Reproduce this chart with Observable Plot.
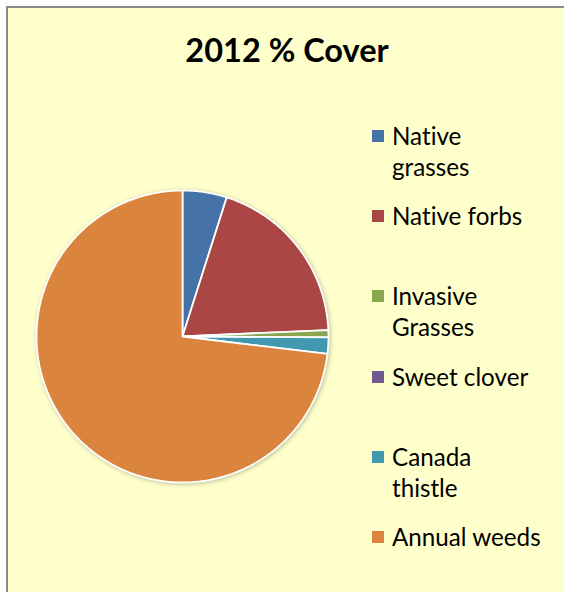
<!DOCTYPE html>
<html>
<head>
<meta charset="utf-8">
<script src="https://cdn.jsdelivr.net/npm/d3@7"></script>
<script src="https://cdn.jsdelivr.net/npm/@observablehq/plot@0.6"></script>
<style>
  html, body { margin: 0; padding: 0; background: #ffffff; width: 564px; height: 592px; overflow: hidden; }
  #frame { position: absolute; left: 6px; top: 6px; width: 600px; height: 640px;
           background: #FFFFCC; border: 2px solid #8a8a8a; box-sizing: border-box; }
  #title { position: absolute; left: 87px; width: 400px; top: 30px; text-align: center;
           font-family: Lato, sans-serif; font-weight: bold; font-size: 32.5px; color: #000; line-height: 40px; }
  #chart { position: absolute; left: 32px; top: 186px; }
  #chart svg { overflow: visible; }
  .item { position: absolute; left: 372px; font-family: Lato, sans-serif; font-size: 24.2px; line-height: 31px; color: #000;
          font-variant-ligatures: none; }
  .sw { position: absolute; left: 0; top: 10px; width: 12px; height: 12px; }
  .lbl { position: absolute; left: 20px; top: 0; white-space: pre; }
</style>
</head>
<body>
<div id="frame"></div>
<div id="title">2012 % Cover</div>
<div id="chart"></div>
<div id="legend"></div>
<script>
const categories = ["Native grasses", "Native forbs", "Invasive Grasses", "Sweet clover", "Canada thistle", "Annual weeds"];
const legendLabels = ["Native\ngrasses", "Native forbs", "Invasive\nGrasses", "Sweet clover", "Canada\nthistle", "Annual weeds"];
const values = [4.9, 19.4, 0.8, 0, 1.8, 73.1];
const colors = ["#4572A7", "#AA4643", "#89A54E", "#71588F", "#4198AF", "#DB843D"];

// pie angles (clockwise from 12 o'clock)
const pie = d3.pie().sort(null).value(d => d.value)(categories.map((c, i) => ({name: c, value: values[i]})));
const pts = [];
for (const s of pie) {
  if (s.data.value <= 0) continue;
  const n = Math.max(2, Math.ceil((s.endAngle - s.startAngle) / 0.01));
  pts.push({name: s.data.name, x: 0, y: 0});
  for (let k = 0; k <= n; k++) {
    const a = s.startAngle + (s.endAngle - s.startAngle) * k / n;
    pts.push({name: s.data.name, x: Math.sin(a), y: Math.cos(a)});
  }
  pts.push({name: s.data.name, x: 0, y: 0});
}

const chart = Plot.plot({
  width: 300, height: 300,
  margin: 0,
  x: {domain: [-1, 1], range: [4, 296], axis: null},
  y: {domain: [-1, 1], range: [296, 4], axis: null},
  color: {domain: categories, range: colors},
  style: {background: "transparent"},
  marks: [
    Plot.line(pts, {x: "x", y: "y", z: "name", fill: "name", stroke: "#ffffff", strokeWidth: 1.8, strokeLinejoin: "round", curve: "linear"})
  ]
});
chart.style.filter = "drop-shadow(1px 1px 2px rgba(0,0,0,0.25))";
document.getElementById("chart").appendChild(chart);

const legend = document.getElementById("legend");
legendLabels.forEach((lab, i) => {
  const item = document.createElement("div");
  item.className = "item";
  item.style.top = (120 + 80.2 * i) + "px";
  const sw = document.createElement("div");
  sw.className = "sw";
  sw.style.background = colors[i];
  const t = document.createElement("div");
  t.className = "lbl";
  t.textContent = lab;
  item.appendChild(sw); item.appendChild(t);
  legend.appendChild(item);
});
</script>
</body>
</html>
